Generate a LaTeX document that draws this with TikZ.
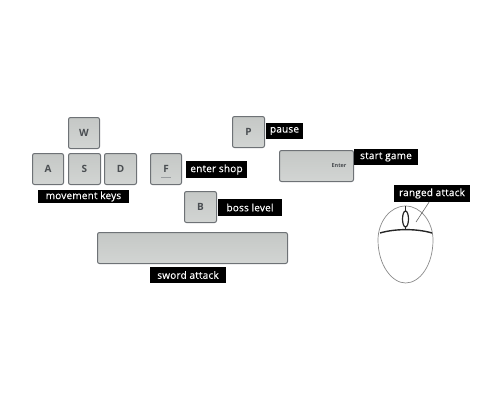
\documentclass[tikz,border=0pt]{standalone}
\usepackage{fontspec}
\setmainfont{Open Sans}
\newfontfamily\tagfont[FakeBold=0.25,LetterSpace=2]{Open Sans}
\definecolor{keyfill}{HTML}{CDD0CE}
\definecolor{keyedge}{HTML}{6E7276}
\definecolor{keytext}{HTML}{4A4E52}
\definecolor{mouseline}{HTML}{8A8A8A}
\tikzset{
  x=1pt,y=-1pt,
  keycap/.style={draw=keyedge,line width=1pt,rounded corners=2pt,top color=keyfill!96!black,bottom color=keyfill!90!white,text=keytext,font=\fontsize{10}{12}\selectfont\bfseries,inner sep=0pt,anchor=north west},
  tag/.style={fill=black,text=white,font=\tagfont\fontsize{10}{12}\selectfont,inner sep=0pt,anchor=center,minimum height=16pt},
  thinmouse/.style={draw=mouseline,line width=0.7pt},
  thickmouse/.style={draw=black!85,line width=1.2pt},
}
\newcommand{\keyat}[7]{\node[keycap,minimum width=#4pt,minimum height=#5pt] (#1) at (#2,#3) {#6};}
\begin{document}
\begin{tikzpicture}
\useasboundingbox (0,0) rectangle (500,400);
\keyat{keyW}{68}{117}{31}{31}{W}{}
\keyat{keyA}{32}{153}{31}{31}{A}{}
\keyat{keyS}{68}{153}{32}{31}{S}{}
\keyat{keyD}{104}{153}{32}{31}{D}{}
\keyat{keyF}{150}{153}{31}{31}{F}{}
\keyat{keyB}{184}{191}{32}{31}{B}{}
\keyat{keyP}{232}{116}{32}{31}{P}{}
\keyat{keyEnter}{279}{150}{74}{31}{}{}
\keyat{keySpace}{97}{232}{190}{31}{}{}
\node[font=\fontsize{5.5}{6}\selectfont\bfseries,text=keytext] (enterlabel) at (339,166) {Enter};
\node[fill=keyedge!70,minimum width=10pt,minimum height=0.5pt,inner sep=0pt] (fbar) at (165.5,177.5) {};
\node[tag,minimum width=91pt,minimum height=13pt] (tagmove) at (83.5,196.5) {movement keys};
\node[tag,minimum width=61pt,minimum height=17pt] (tagshop) at (216.5,169.5) {enter shop};
\node[tag,minimum width=64pt,minimum height=17pt] (tagboss) at (250,207.5) {boss level};
\node[tag,minimum width=37pt] (tagpause) at (284.5,131) {pause};
\node[tag,minimum width=64pt] (tagstart) at (386,157) {start game};
\node[tag,minimum width=76pt,minimum height=17pt] (tagrange) at (432,193.5) {ranged attack};
\node[tag,minimum width=76pt] (tagsword) at (188,275) {sword attack};
% mouse
\draw[thinmouse] (405.5,206) .. controls (390,206) and (378,222) .. (378,240) .. controls (378,265) and (392,283) .. (405.5,283) .. controls (420,283) and (433,265) .. (433,240) .. controls (433,222) and (421,206) .. (405.5,206) -- cycle;
\draw[thickmouse,line width=1.4pt] (380,233) .. controls (395,228.5) and (417,228.5) .. (432,233);
\draw[thickmouse] (405.5,206) -- (405.5,211);
\draw[thickmouse] (405.5,227) -- (405.5,230);
\draw[thickmouse] (405.5,219) ellipse (3 and 8);
\coordinate (btn) at (416,222);
\draw[draw=black!60,line width=0.6pt] (btn) -- (tagrange.south -| 429,0);
\end{tikzpicture}
\end{document}
